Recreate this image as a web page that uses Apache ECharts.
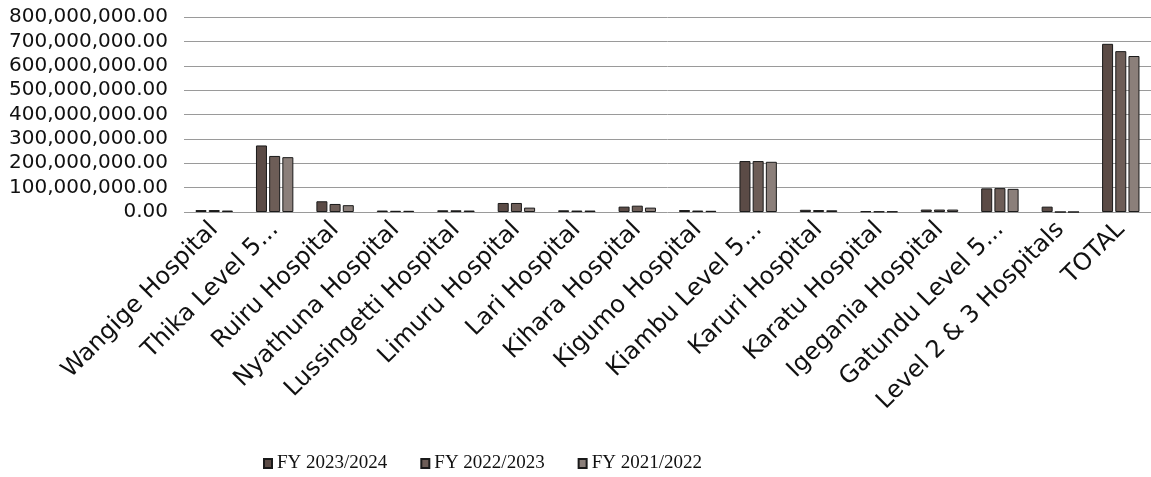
<!DOCTYPE html>
<html>
<head>
<meta charset="utf-8">
<title>Hospital collections by financial year</title>
<script src="https://cdn.jsdelivr.net/npm/echarts@6/dist/echarts.min.js"></script>
<style>
  html, body { margin: 0; padding: 0; background: #fff; }
  #chart { width: 1151px; height: 477px; }
</style>
</head>
<body>
<div id="chart"></div>
<script>
const categories = [
  'Wangige Hospital', 'Thika Level 5...', 'Ruiru Hospital', 'Nyathuna Hospital',
  'Lussingetti Hospital', 'Limuru Hospital', 'Lari Hospital', 'Kihara Hospital',
  'Kigumo Hospital', 'Kiambu Level 5...', 'Karuri Hospital', 'Karatu Hospital',
  'Igegania Hospital', 'Gatundu Level 5...', 'Level 2 & 3 Hospitals', 'TOTAL'
]

const seriesNames = ['FY 2023/2024', 'FY 2022/2023', 'FY 2021/2022']

// values, estimated
const fy2324 = [8000000, 273000000, 44000000, 6000000, 7000000, 37000000, 7000000, 22000000,
  8000000, 209000000, 9000000, 3000000, 10000000, 97000000, 22000000, 690000000]
const fy2223 = [8000000, 230000000, 33000000, 5000000, 7000000, 37000000, 6000000, 26000000,
  6000000, 209000000, 8000000, 2000000, 10000000, 98000000, 0, 660000000]
const fy2122 = [6000000, 225000000, 28000000, 5000000, 6000000, 18000000, 6000000, 18000000,
  5000000, 206000000, 7000000, 2000000, 10000000, 95000000, 0, 640000000]

const barColors = ['#5b4b46', '#6d5d57', '#8b7f7a']

const chart = echarts.init(document.getElementById('chart'))

const fmt = (v) => Number(v).toLocaleString('en-US', {
  minimumFractionDigits: 2,
  maximumFractionDigits: 2
})

chart.setOption({
  animation: false,
  color: barColors,
  grid: {
    left: 184,
    right: -9,
    top: 17,
    bottom: 265
  },
  legend: {
    bottom: -1,
    left: 258,
    icon: 'rect',
    itemWidth: 8,
    itemHeight: 9,
    itemGap: 33,
    textStyle: {
      fontFamily: 'Liberation Serif',
      fontSize: 19,
      color: '#111'
    },
    data: seriesNames
  },
  xAxis: {
    type: 'category',
    data: categories,
    axisLine: { show: false },
    axisTick: { show: false },
    axisLabel: {
      interval: 0,
      rotate: 45,
      margin: 14,
      fontFamily: 'DejaVu Sans',
      fontSize: 24,
      color: '#111'
    }
  },
  yAxis: {
    type: 'value',
    min: 0,
    max: 800000000,
    interval: 100000000,
    axisLabel: {
      margin: 16,
      fontFamily: 'DejaVu Sans',
      fontSize: 20,
      color: '#111',
      formatter: fmt
    },
    splitLine: {
      lineStyle: { color: '#9a9a9a', width: 1 }
    }
  },
  series: [
    { name: seriesNames[0], type: 'bar', data: fy2324 },
    { name: seriesNames[1], type: 'bar', data: fy2223 },
    { name: seriesNames[2], type: 'bar', data: fy2122 }
  ].map(s => Object.assign(s, {
    barWidth: 11,
    barGap: '20%',
    itemStyle: { borderColor: '#1a1a1a', borderWidth: 1 }
  }))
})
</script>
</body>
</html>
